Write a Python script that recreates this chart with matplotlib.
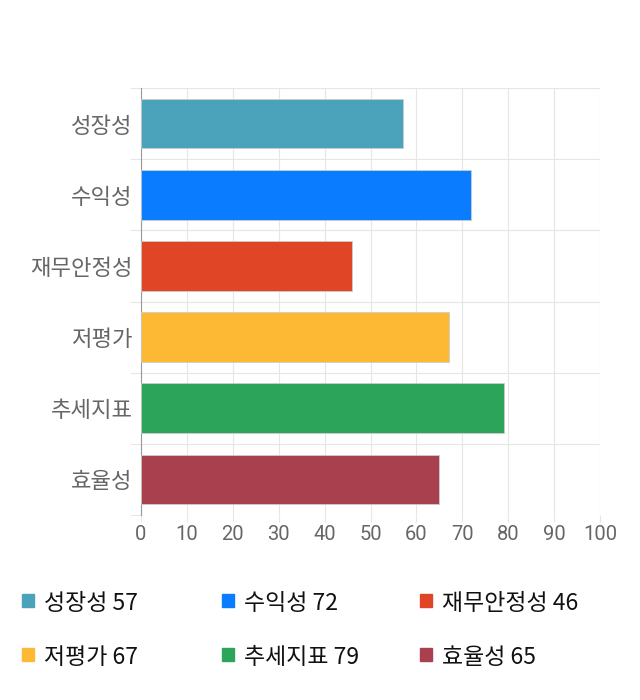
import matplotlib
matplotlib.use("Agg")
import matplotlib.pyplot as plt
from matplotlib.patches import Rectangle

plt.rcParams['font.family'] = ['Noto Sans CJK KR', 'DejaVu Sans']

categories = ["성장성", "수익성", "재무안정성", "저평가", "추세지표", "효율성"]
scores = [57, 72, 46, 67, 79, 65]
colors = ["#4aa3ba", "#0a7cff", "#e04526", "#fdb933", "#2ca55a", "#a8404e"]
xticks = [0, 10, 20, 30, 40, 50, 60, 70, 80, 90, 100]

fig = plt.figure(figsize=(6.4, 7.0), dpi=100)
ax = fig.add_axes([141 / 640, 1 - 515 / 700, 459 / 640, 427 / 700])

pos = list(range(len(categories)))
ax.barh(pos, scores, height=0.7, color=colors, edgecolor="#cccccc", linewidth=0.6, zorder=3)

ax.set_xlim(0, 100)
ax.set_ylim(len(categories) - 0.5, -0.5)
ax.set_xticks(xticks)
ax.set_xticklabels([str(t) for t in xticks], fontsize=14.5, color="#666666",
                   family=["Roboto", "DejaVu Sans"])
ax.set_yticks(pos)
ax.set_yticklabels(categories, fontsize=16, color="#666666")

# grid: vertical lines at ticks, horizontal separators between bands
for t in xticks:
    ax.axvline(t, color="#e6e6e6", linewidth=0.8, zorder=0)
for i in range(len(categories) + 1):
    ax.axhline(i - 0.5, color="#e6e6e6", linewidth=0.8, zorder=0)
    ax.plot([-2.2, 0], [i - 0.5, i - 0.5], color="#e6e6e6", linewidth=0.8, clip_on=False)

for s in ["top", "right", "bottom"]:
    ax.spines[s].set_visible(False)
ax.spines["left"].set_color("#999999")
ax.spines["left"].set_linewidth(0.8)
ax.tick_params(axis="y", length=0, pad=6)
ax.tick_params(axis="x", length=5, color="#e6e6e6", pad=2)

# legend
col_x = [22, 222, 420]
row_y = [602, 656]
for i, (c, v, col) in enumerate(zip(categories, scores, colors)):
    x = col_x[i % 3]
    y = row_y[i // 3]
    fig.patches.append(Rectangle((x / 640, 1 - (y + 5) / 700), 12 / 640, 13 / 700,
                                 transform=fig.transFigure, color=col))
    fig.text((x + 22) / 640, 1 - (y + 1) / 700, f"{c} {v}", fontsize=16.5,
             color="#111111", va="center", ha="left")

fig.savefig("out.png", dpi=100)
